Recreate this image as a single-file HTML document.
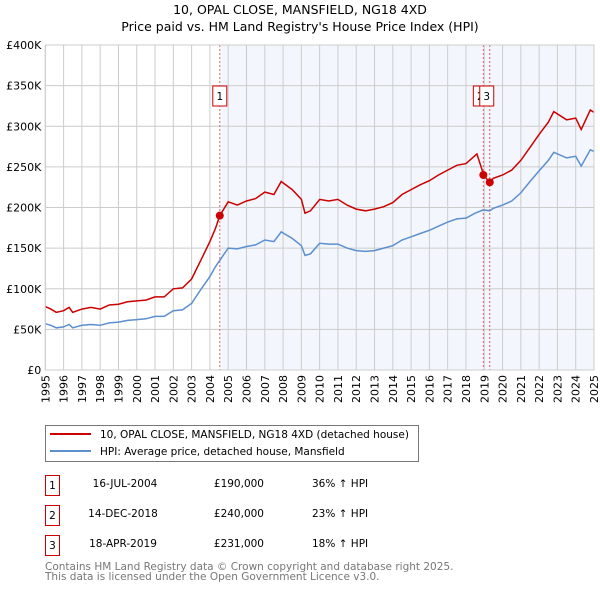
<!DOCTYPE html>
<html><head><meta charset="utf-8"><style>
body{margin:0;background:#fff;}
svg text{font-family:"DejaVu Sans","Liberation Sans",sans-serif;}
</style></head><body>
<svg id="chart" width="600" height="590" viewBox="0 0 600 590" xmlns="http://www.w3.org/2000/svg">
<text x="300" y="14" text-anchor="middle" font-size="12.5">10, OPAL CLOSE, MANSFIELD, NG18 4XD</text>
<text x="300" y="31" text-anchor="middle" font-size="12.5">Price paid vs. HM Land Registry's House Price Index (HPI)</text>
<g id="plot"></g>
<g>
<rect x="45.5" y="425.5" width="373" height="36" fill="#fff" stroke="#777"/>
<line x1="50" y1="434" x2="91" y2="434" stroke="#cc0000" stroke-width="2"/>
<text x="100" y="438" font-size="10.5">10, OPAL CLOSE, MANSFIELD, NG18 4XD (detached house)</text>
<line x1="50" y1="451" x2="91" y2="451" stroke="#5b8fd0" stroke-width="2"/>
<text x="100" y="455" font-size="10.5">HPI: Average price, detached house, Mansfield</text>
</g>
<g font-size="10.5">
<rect x="45.5" y="475.5" width="14" height="20" fill="#fff" stroke="#cc0000"/><text x="52.5" y="489" text-anchor="middle">1</text>
<text x="125" y="487" text-anchor="middle">16-JUL-2004</text><text x="264" y="487" text-anchor="end">£190,000</text><text x="312" y="487">36% ↑ HPI</text>
<rect x="45.5" y="505.5" width="14" height="20" fill="#fff" stroke="#cc0000"/><text x="52.5" y="519" text-anchor="middle">2</text>
<text x="123" y="517" text-anchor="middle">14-DEC-2018</text><text x="264" y="517" text-anchor="end">£240,000</text><text x="312" y="517">23% ↑ HPI</text>
<rect x="45.5" y="535.5" width="14" height="20" fill="#fff" stroke="#cc0000"/><text x="52.5" y="549" text-anchor="middle">3</text>
<text x="123" y="547" text-anchor="middle">18-APR-2019</text><text x="264" y="547" text-anchor="end">£231,000</text><text x="312" y="547">18% ↑ HPI</text>
</g>
<text x="45" y="570" font-size="10.5" fill="#777">Contains HM Land Registry data © Crown copyright and database right 2025.</text>
<text x="45" y="580" font-size="10.5" fill="#777">This data is licensed under the Open Government Licence v3.0.</text>
</svg>
<script>
const hpiT=[1995.0,1995.3,1995.6,1996.0,1996.3,1996.5,1997.0,1997.5,1998.0,1998.5,1999.0,1999.5,2000.0,2000.5,2001.0,2001.5,2002.0,2002.5,2003.0,2003.5,2004.0,2004.3,2004.54,2005.0,2005.5,2006.0,2006.5,2007.0,2007.5,2007.9,2008.5,2009.0,2009.2,2009.5,2010.0,2010.5,2011.0,2011.5,2012.0,2012.5,2013.0,2013.5,2014.0,2014.5,2015.0,2015.5,2016.0,2016.5,2017.0,2017.5,2018.0,2018.5,2018.95,2019.3,2019.5,2020.0,2020.5,2021.0,2021.5,2022.0,2022.5,2022.8,2023.5,2024.0,2024.3,2024.8,2025.0];
const hpiV=[57,55,52,53,56,52,55,56,55,58,59,61,62,63,66,66,73,74,82,99,115,127,135,150,149,152,154,160,158,170,162,153,141,143,156,155,155,150,147,146,147,150,153,160,164,168,172,177,182,186,187,193,197,196,199,203,208,218,232,245,258,268,261,263,251,271,269];
const redT=[1995.0,1995.3,1995.6,1996.0,1996.3,1996.5,1997.0,1997.5,1998.0,1998.5,1999.0,1999.5,2000.0,2000.5,2001.0,2001.5,2002.0,2002.5,2003.0,2003.5,2004.0,2004.3,2004.54,2005.0,2005.5,2006.0,2006.5,2007.0,2007.5,2007.9,2008.5,2009.0,2009.2,2009.5,2010.0,2010.5,2011.0,2011.5,2012.0,2012.5,2013.0,2013.5,2014.0,2014.5,2015.0,2015.5,2016.0,2016.5,2017.0,2017.5,2018.0,2018.6,2018.9,2018.95,2019.3,2019.5,2020.0,2020.5,2021.0,2021.5,2022.0,2022.5,2022.8,2023.5,2024.0,2024.3,2024.8,2025.0];
const redV=[78,75,71,73,77,71,75,77,75,80,81,84,85,86,90,90,100,101,112,135,158,174,190,207,203,208,211,219,216,232,222,210,193,196,210,208,210,203,198,196,198,201,206,216,222,228,233,240,246,252,254,266,245,240,231,236,240,246,258,274,290,305,318,308,310,296,320,317];
const saleT=[2004.54,2018.95,2019.3];
const saleV=[190,240,231];
const saleLabels=["1","2","3"];
const yTicks=[0,50,100,150,200,250,300,350,400];
const yTickLabels=["£0","£50K","£100K","£150K","£200K","£250K","£300K","£350K","£400K"];
const xYears=[1995,1996,1997,1998,1999,2000,2001,2002,2003,2004,2005,2006,2007,2008,2009,2010,2011,2012,2013,2014,2015,2016,2017,2018,2019,2020,2021,2022,2023,2024,2025];

const L=45.3,R=594,T=45,B=370;
const x=t=>L+(t-1995)/30*(R-L);
const y=v=>B-v/400*(B-T);
const NS="http://www.w3.org/2000/svg";
const g=document.getElementById('plot');
function mk(tag,attrs,parent){const e=document.createElementNS(NS,tag);for(const k in attrs)e.setAttribute(k,attrs[k]);(parent||g).appendChild(e);return e;}
// shaded region
const sh=mk('rect',{x:x(saleT[0]),y:T,width:R-x(saleT[0]),height:B-T,fill:'#eef3fc',opacity:0.7});


// grid
yTicks.forEach((v,i)=>{
 const ln=mk('line',{x1:L,x2:R,y1:y(v),y2:y(v),stroke:'#ccc','stroke-width':1});
 
 
 const tx=mk('text',{x:L-4,y:y(v)+4,'text-anchor':'end','font-size':11});
 
 
 tx.textContent=yTickLabels[i];
});
xYears.forEach(yr=>{
 const ln=mk('line',{x1:x(yr),x2:x(yr),y1:T,y2:B,stroke:'#ccc','stroke-width':1});
 
 
 const tx=mk('text',{x:0,y:0,'text-anchor':'end','font-size':11,transform:`translate(${x(yr)+4},375) rotate(-90)`});
 
 
 tx.textContent=yr;
});
// sale lines
saleT.forEach(t=>{
 const ln=mk('line',{x1:x(t),x2:x(t),y1:T,y2:B,stroke:'#e06060','stroke-width':1,'stroke-dasharray':'2,2'});
 
 
});
function path(ts,vs){return ts.map((t,i)=>(i?'L':'M')+x(t).toFixed(1)+','+y(vs[i]).toFixed(1)).join('');}
const hp=mk('path',{d:path(hpiT,hpiV),fill:'none',stroke:'#5b8fd0','stroke-width':1.5});


const rp=mk('path',{d:path(redT,redV),fill:'none',stroke:'#cc0000','stroke-width':1.5});


saleT.forEach((t,i)=>{
 const c=mk('circle',{cx:x(t),cy:y(saleV[i]),r:4,fill:'#cc0000'});
 
 
});
const boxX=[x(saleT[0]),x(saleT[1])-3,x(saleT[2])-3];
saleLabels.forEach((lab,i)=>{
 const r=mk('rect',{x:boxX[i]-7,y:86,width:14,height:20,fill:'#fff',stroke:'#cc0000'});
 
 
 const tx=mk('text',{x:boxX[i],y:100,'text-anchor':'middle','font-size':10.5});
 
 
 tx.textContent=lab;
});
const fr=mk('rect',{x:L,y:T,width:R-L,height:B-T,fill:'none',stroke:'#ccc'});


</script>
</body></html>
